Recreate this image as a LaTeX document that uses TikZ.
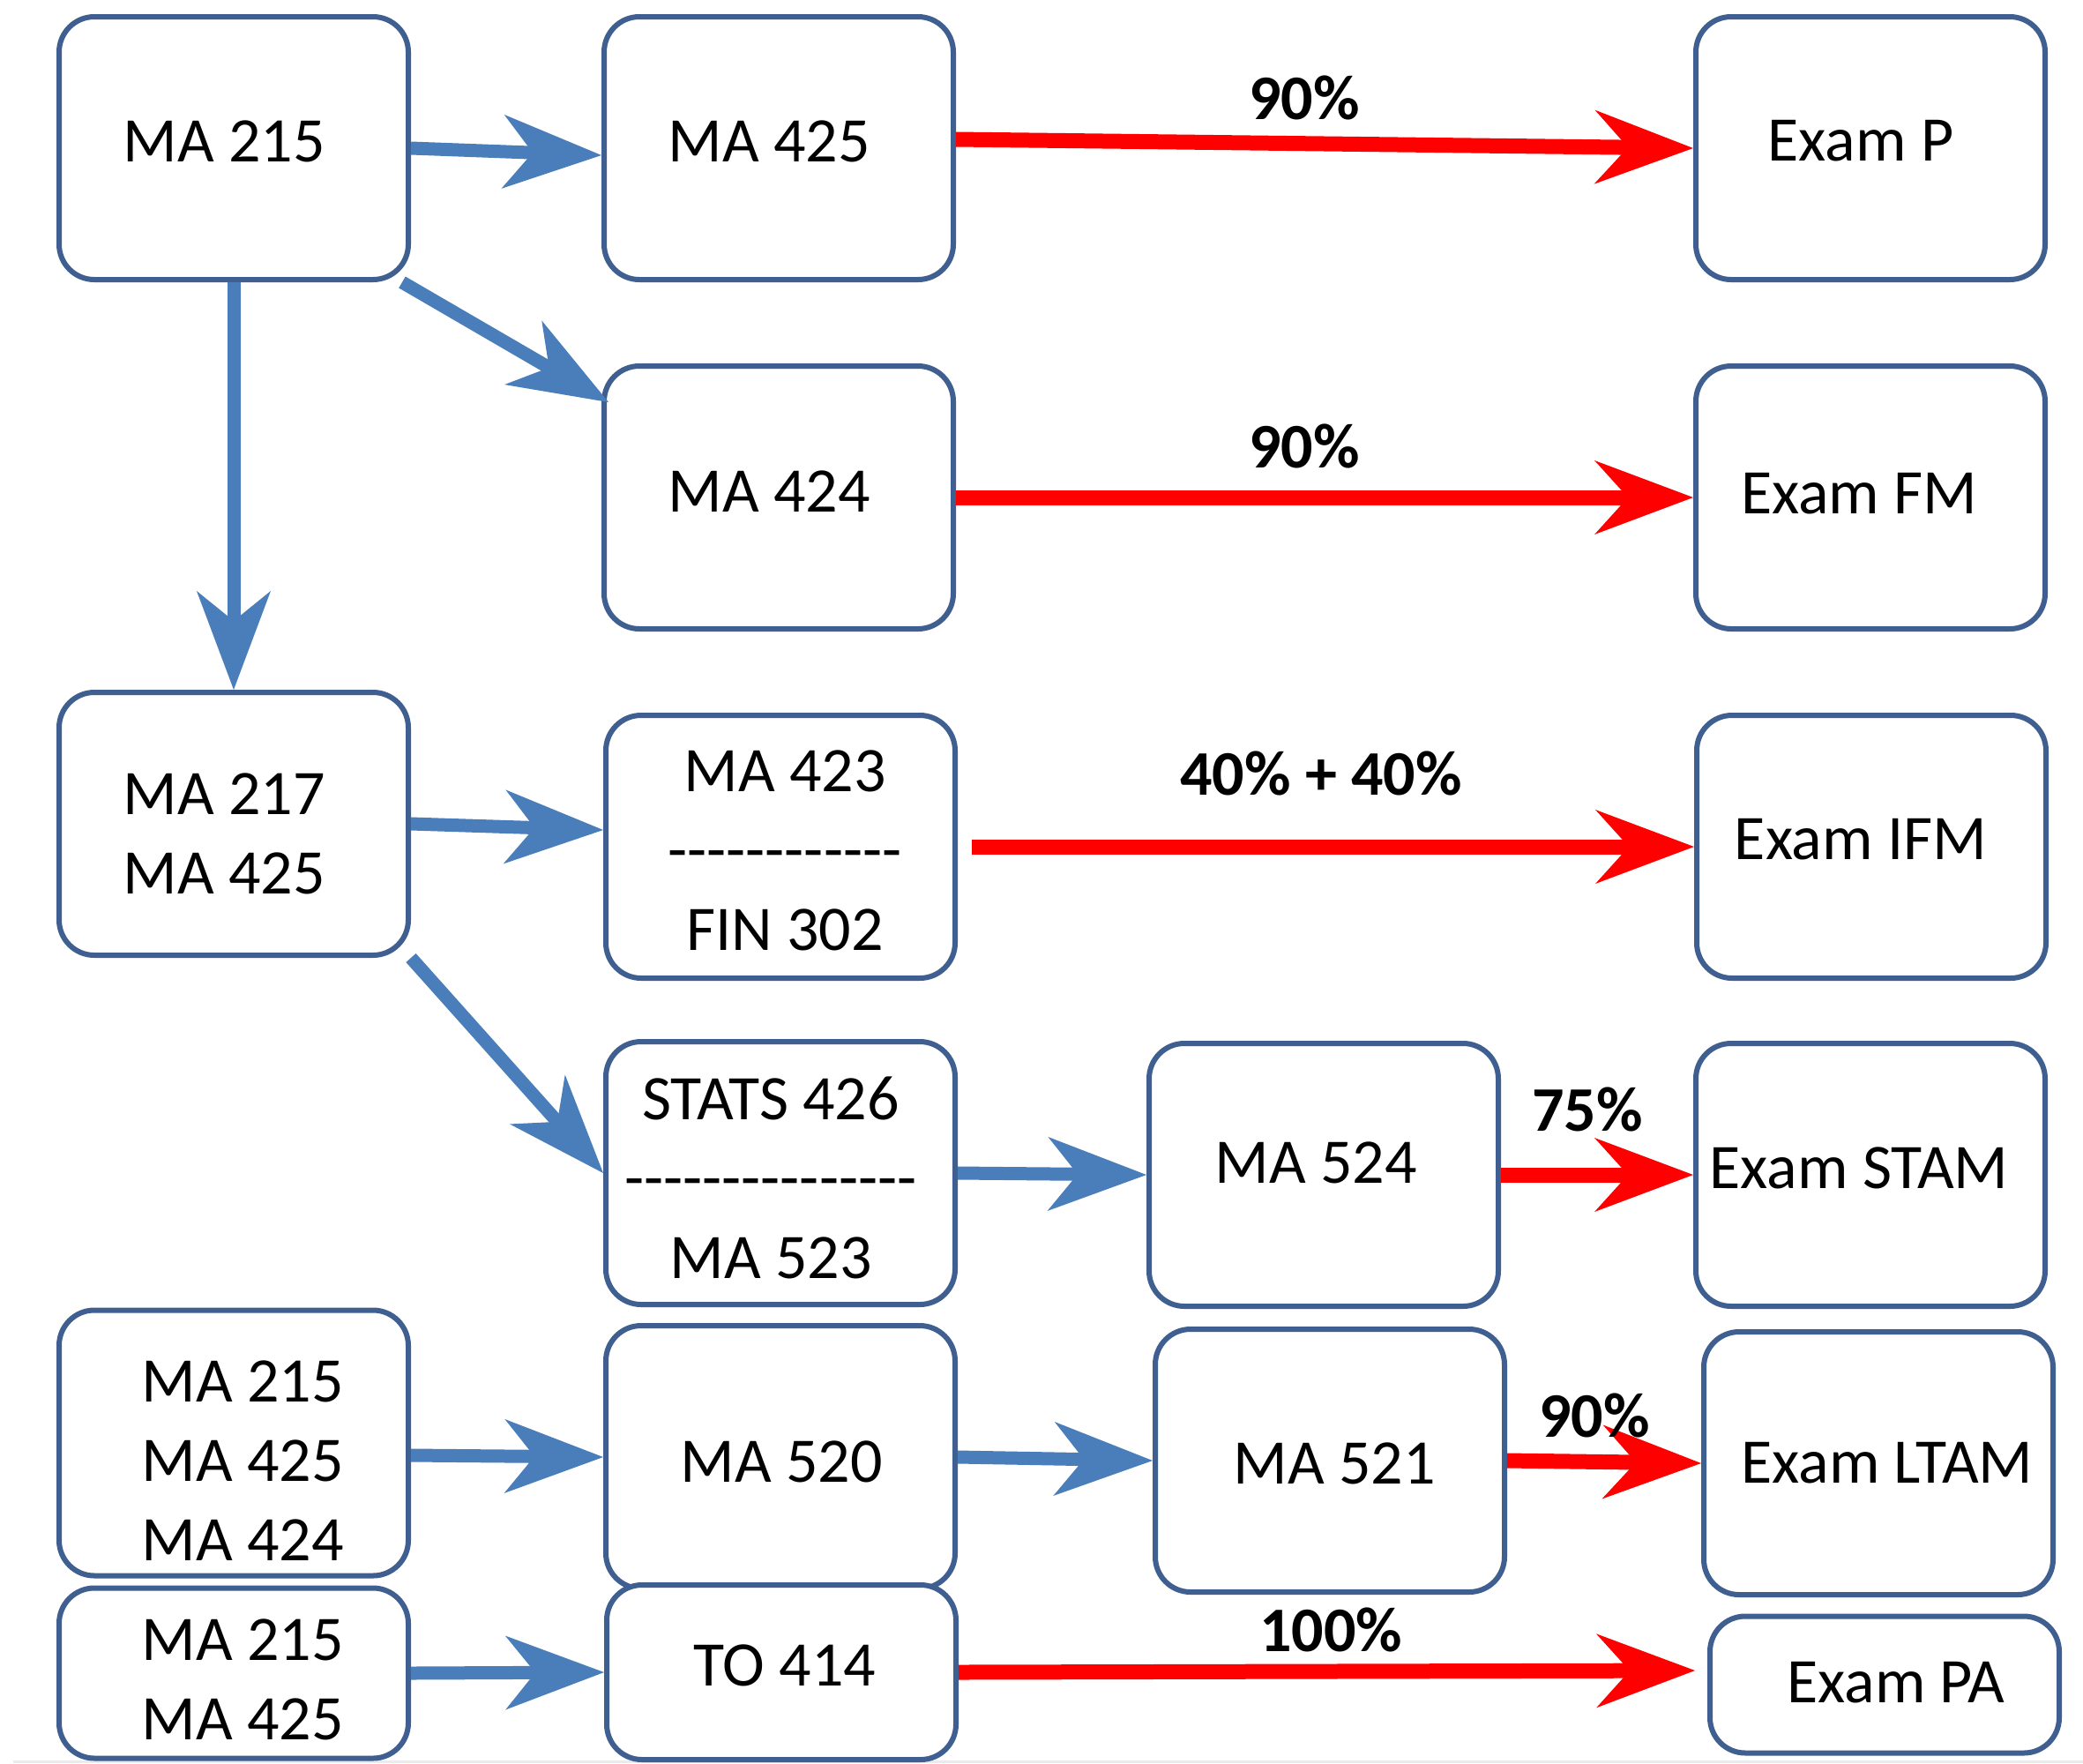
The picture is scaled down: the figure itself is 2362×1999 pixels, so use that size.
\documentclass[tikz,border=0pt]{standalone}
\usepackage{fontspec}
\setmainfont{Carlito}
\usetikzlibrary{arrows.meta}
\definecolor{boxc}{HTML}{3E5F8F}
\definecolor{bluec}{HTML}{4A7EBB}
\definecolor{redc}{HTML}{FF0000}
\begin{document}
\begin{tikzpicture}[x=0.5pt,y=-0.5pt,
  box/.style={draw=boxc, line width=3pt, rounded corners=20pt, fill=white,
    minimum width=198pt, minimum height=149pt, inner sep=0pt},
  txt/.style={inner sep=0pt, align=center, font=\fontsize{36}{45}\selectfont},
  barrow/.style={draw=bluec, line width=7.5pt,
    -{Stealth[length=56pt,width=42pt,inset=17pt,line width=0pt]}},
  rarrow/.style={draw=redc, line width=8.5pt,
    -{Stealth[length=56pt,width=42pt,inset=19pt,line width=0pt]}},
  lbl/.style={font=\fontsize{36}{45}\selectfont\bfseries, inner sep=0pt}]
\useasboundingbox (0,0) rectangle (2362,1999);
\clip (0,0) rectangle (2362,1999);
\fill[black!8] (15,1996) rectangle (2362,1999);

% boxes
\node[box] (b1) at (265,168) {};
\node[box] (b2) at (883,168) {};
\node[box] (exP) at (2121,168) {};
\node[box] (b4) at (883,564) {};
\node[box] (exFM) at (2121,564) {};
\node[box] (b5) at (265,934) {};
\node[box] (b6) at (885,960) {};
\node[box] (exI) at (2122,960) {};
\node[box] (b7) at (885,1330) {};
\node[box] (b8) at (1501,1332) {};
\node[box] (exS) at (2121,1332) {};
\node[box, minimum height=150.5pt] (b9) at (265,1636) {};
\node[box] (b10) at (885,1652) {};
\node[box] (b11) at (1508,1656) {};
\node[box] (exL) at (2130,1659) {};
\node[box, minimum height=96.5pt] (b12) at (265,1897) {};
\node[box, minimum height=99pt] (b13) at (886,1896) {};
\node[box, minimum height=77.5pt] (exPA) at (2137,1910) {};

% box texts
\node[txt] (t1) at (254,160) {MA 215};
\node[txt] (t2) at (872,160) {MA 425};
\node[txt] (t3) at (2110,160) {Exam P};
\node[txt] (t4) at (872,557) {MA 424};
\node[txt] (t5) at (2108,560) {Exam FM};
\node[txt] (t6) at (254,945) {MA 217\\MA 425};
\node[txt] (t7) at (890,964) {MA 423\\-{}-{}-{}-{}-{}-{}-{}-{}-{}-{}-{}-\\FIN 302};
\node[txt] (t8) at (2110,952) {Exam IFM};
\node[txt] (t9) at (874,1335) {STATS 426\\-{}-{}-{}-{}-{}-{}-{}-{}-{}-{}-{}-{}-{}-{}-\\MA 523};
\node[txt] (t10) at (1492,1318) {MA 524};
\node[txt] (t11) at (2108,1324) {Exam STAM};
\node[txt] (t12) at (275,1656) {MA 215\\MA 425\\MA 424};
\node[txt] (t13) at (886,1657) {MA 520};
\node[txt] (t14) at (1513,1659) {MA 521};
\node[txt] (t15) at (2140,1659) {Exam LTAM};
\node[txt] (t16) at (275,1904) {MA 215\\MA 425};
\node[txt] (t17) at (890,1888) {TO 414};
\node[txt] (t18) at (2150,1908) {Exam PA};

% blue connectors
\draw[barrow] (b1.east) -- ([yshift=-4pt]b2.west);
\draw[barrow] ([xshift=-5pt]b1.south east) -- ([xshift=4pt,yshift=-22pt]b4.north west);
\draw[barrow] (b1.south) -- (b5.north);
\draw[barrow] (b5.east) -- ([yshift=9.5pt]b6.west);
\draw[barrow] (b5.south east) -- (b7.west);
\draw[barrow] (b7.east) -- (b8.west);
\draw[barrow] ([yshift=-7pt]b9.east) -- (b10.west);
\draw[barrow] (b10.east) -- (b11.west);
\draw[barrow] (b12.east) -- (b13.west);

% red connectors
\draw[rarrow] ([yshift=5pt]b2.east) -- (exP.west);
\draw[rarrow] (b4.east) -- (exFM.west);
\draw[rarrow] ([xshift=8pt]b6.east) -- (exI.west);
\draw[rarrow] (b8.east) -- (exS.west);
\draw[rarrow] (b11.east) -- (exL.west);
\draw[rarrow] (b13.east) -- ([xshift=-7pt,yshift=8pt]exPA.west);

% labels
\node[lbl] (p1) at (1479,111) {90\%};
\node[lbl] (p2) at (1479,506) {90\%};
\node[lbl] (p3) at (1498,877) {40\% + 40\%};
\node[lbl] (p4) at (1800,1258) {75\%};
\node[lbl] (p5) at (1808,1605) {90\%};
\node[lbl] (p6) at (1509,1848) {100\%};
\end{tikzpicture}
\end{document}
